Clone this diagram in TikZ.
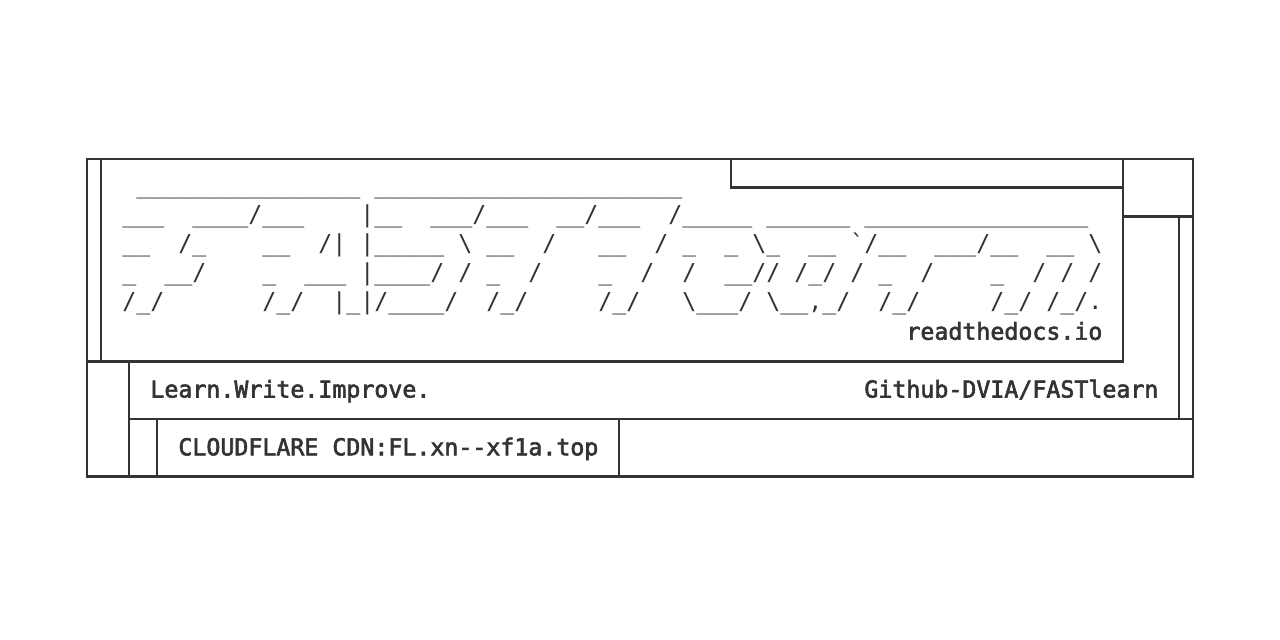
\documentclass[tikz,border=0pt]{standalone}
\usepackage{fontspec}
\setmonofont{DejaVu Sans Mono}
\newfontfamily\labelfont{DejaVu Sans Mono}[FakeBold=2.5, Ligatures=ResetAll]
\definecolor{ink}{HTML}{333333}
\tikzset{
    frame/.style = {line width=1.4pt, draw=ink},
    asciirow/.style = {anchor=base west, inner sep=0pt, text=ink,
        font=\ttfamily\fontsize{11.627pt}{14pt}\selectfont},
    labelrow/.style = {asciirow,
        font=\labelfont\fontsize{11.627pt}{14pt}\selectfont}
}
\begin{document}
\begin{tikzpicture}[x=7pt, y=-14.45pt]
    \useasboundingbox (-6.2143,-5.5017) rectangle (85.2143,16.6436);

    \draw[frame] (0,0) rectangle (79,11);
    \draw[frame] (1,0) -- (1,7);
    \draw[frame] (0,7) -- (74,7) -- (74,0);
    \draw[frame] (46,0) -- (46,1) -- (74,1);
    \draw[frame] (74,2) -- (79,2);
    \draw[frame] (78,2) -- (78,9);

    \draw[frame] (3,7) -- (3,11);
    \draw[frame] (3,9) -- (79,9);
    \draw[frame] (5,9) -- (5,11);
    \draw[frame] (38,9) -- (38,11);

	% banner
    \node[asciirow] (art1) at (2.5,1.2) {~\_\_\_\_\_\_\_\_\_\_\_\_\_\_\_\_~\_\_\_\_\_\_\_\_\_\_\_\_\_\_\_\_\_\_\_\_\_\_};
    \node[asciirow] (art2) at (2.5,2.2) {\_\_\_~~\_\_\_\_/\_\_\_~~~~\textbar\_\_~~\_\_\_/\_\_\_~~\_\_/\_\_\_~~/\_\_\_\_\_~\_\_\_\_\_\_~\_\_\_\_\_\_\_\_\_\_\_\_\_\_\_\_};
    \node[asciirow] (art3) at (2.5,3.2) {\_\_~~/\_~~~~\_\_~~/\textbar~\textbar\_\_\_\_\_~\textbackslash~\_\_~~/~~~\_\_~~/~\_~~\_~\textbackslash\_~~\_\_~\textasciigrave/\_\_~~\_\_\_/\_\_~~\_\_~\textbackslash};
    \node[asciirow] (art4) at (2.5,4.2) {\_~~\_\_/~~~~\_~~\_\_\_~\textbar\_\_\_\_/~/~\_~~/~~~~\_~~/~~/~~\_\_//~/\_/~/~\_~~/~~~~\_~~/~/~/};
    \node[asciirow] (art5) at (2.5,5.2) {/\_/~~~~~~~/\_/~~\textbar\_\textbar/\_\_\_\_/~~/\_/~~~~~/\_/~~~\textbackslash\_\_\_/~\textbackslash\_\_,\_/~~/\_/~~~~~/\_/~/\_/.};
    \node[labelrow] (docs) at (58.5,6.253) {readthedocs.io};

    \node[labelrow] (motto) at (4.5,8.253) {Learn.Write.Improve.};
    \node[labelrow] (repo) at (55.5,8.253) {Github-DVIA/FASTlearn};
    \node[labelrow] (cdn) at (6.5,10.253) {CLOUDFLARE CDN:FL.xn--xf1a.top};

\end{tikzpicture}
\end{document}
